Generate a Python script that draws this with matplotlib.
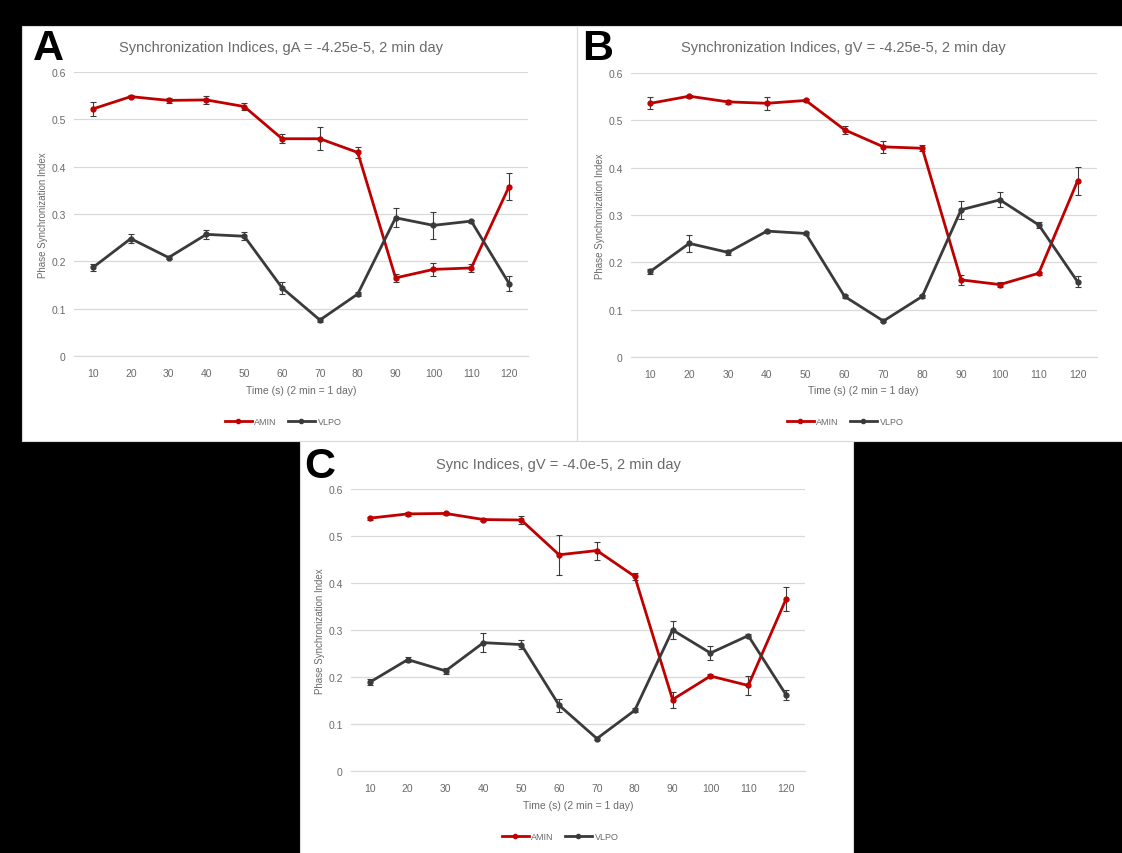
import matplotlib
matplotlib.use("Agg")
import matplotlib.pyplot as plt
from matplotlib.patches import Rectangle
from matplotlib.lines import Line2D

plt.rcParams['font.family'] = ['Liberation Sans', 'DejaVu Sans']

# data
times = ['10', '20', '30', '40', '50', '60', '70', '80', '90', '100', '110', '120']

amin_a = [0.522, 0.548, 0.540, 0.541, 0.527, 0.459, 0.459, 0.430, 0.165, 0.183, 0.186, 0.358]
amin_a_err = [0.014, 0.003, 0.005, 0.009, 0.008, 0.009, 0.024, 0.011, 0.009, 0.013, 0.008, 0.028]
vlpo_a = [0.187, 0.248, 0.208, 0.257, 0.253, 0.144, 0.076, 0.131, 0.292, 0.276, 0.285, 0.153]
vlpo_a_err = [0.008, 0.010, 0.003, 0.010, 0.008, 0.012, 0.004, 0.005, 0.020, 0.028, 0.003, 0.015]

amin_b = [0.536, 0.551, 0.539, 0.536, 0.542, 0.480, 0.444, 0.441, 0.163, 0.153, 0.177, 0.372]
amin_b_err = [0.013, 0.003, 0.005, 0.014, 0.003, 0.008, 0.012, 0.006, 0.010, 0.006, 0.003, 0.030]
vlpo_b = [0.181, 0.240, 0.221, 0.266, 0.261, 0.128, 0.076, 0.128, 0.311, 0.332, 0.279, 0.159]
vlpo_b_err = [0.005, 0.018, 0.005, 0.003, 0.004, 0.004, 0.003, 0.004, 0.019, 0.016, 0.006, 0.012]

amin_c = [0.538, 0.547, 0.548, 0.535, 0.534, 0.460, 0.469, 0.414, 0.152, 0.202, 0.182, 0.366]
amin_c_err = [0.003, 0.004, 0.003, 0.004, 0.008, 0.042, 0.019, 0.008, 0.017, 0.004, 0.020, 0.025]
vlpo_c = [0.189, 0.237, 0.213, 0.273, 0.269, 0.140, 0.069, 0.129, 0.300, 0.251, 0.288, 0.162]
vlpo_c_err = [0.006, 0.005, 0.007, 0.020, 0.010, 0.014, 0.003, 0.004, 0.019, 0.014, 0.003, 0.010]

titles = ['Synchronization Indices, gA = -4.25e-5, 2 min day',
          'Synchronization Indices, gV = -4.25e-5, 2 min day',
          'Sync Indices, gV = -4.0e-5, 2 min day']
letters = ['A', 'B', 'C']
series_names = ['AMIN', 'VLPO']

W, H = 1122, 854
RED = '#C00000'
DARK = '#3A3A3A'
GRAY = '#6A6A6A'

fig = plt.figure(figsize=(W / 100, H / 100), dpi=100, facecolor='black')


def fx(x):
    return x / W


def fy(y):
    return 1 - y / H


def panel(box, plot, title, title_pos, letter, letter_pos, xlab_pos, leg_pos, amin, amin_err, vlpo, vlpo_err):
    x0, y0, x1, y1 = box
    fig.patches.append(Rectangle((fx(x0), fy(y1)), fx(x1 - x0), (y1 - y0) / H,
                                 transform=fig.transFigure, facecolor='white',
                                 edgecolor='#D9D9D9', lw=0.8, zorder=-5))
    px0, py0, px1, py1 = plot
    ax = fig.add_axes([fx(px0), fy(py1), fx(px1 - px0), (py1 - py0) / H])
    ax.set_facecolor('none')
    xs = range(len(times))
    ax.errorbar(xs, amin, yerr=amin_err, color=RED, lw=2, marker='o', ms=3.5,
                ecolor=DARK, elinewidth=0.8, capsize=2.5, capthick=0.8, zorder=3, clip_on=False)
    ax.errorbar(xs, vlpo, yerr=vlpo_err, color=DARK, lw=2, marker='o', ms=3.5,
                ecolor=DARK, elinewidth=0.8, capsize=2.5, capthick=0.8, zorder=3, clip_on=False)
    ax.set_xlim(-0.5, len(times) - 0.5)
    ax.set_ylim(0, 0.6)
    ax.set_yticks([0, 0.1, 0.2, 0.3, 0.4, 0.5, 0.6])
    ax.set_yticklabels(['0', '0.1', '0.2', '0.3', '0.4', '0.5', '0.6'])
    ax.set_xticks(list(xs))
    ax.set_xticklabels(times)
    ax.tick_params(length=0, labelsize=7.5, colors=GRAY, pad=9)
    ax.tick_params(axis='y', pad=6)
    ax.grid(axis='y', color='#D9D9D9', lw=0.9)
    ax.set_axisbelow(True)
    for s in ['top', 'right', 'left']:
        ax.spines[s].set_visible(False)
    ax.spines['bottom'].set_color('#D9D9D9')
    ax.set_ylabel('Phase Synchronization Index', fontsize=7, color=GRAY, labelpad=2)
    fig.text(fx(xlab_pos[0]), fy(xlab_pos[1]), 'Time (s) (2 min = 1 day)', fontsize=7.5,
             color=GRAY, ha='center', va='center')
    fig.text(fx(title_pos[0]), fy(title_pos[1]), title, fontsize=10.5, color=GRAY,
             ha='center', va='center')
    fig.text(fx(letter_pos[0]), fy(letter_pos[1]), letter, fontsize=31, fontweight='bold',
             color='black', ha='left', va='center')
    handles = [Line2D([], [], color=RED, lw=2, marker='o', ms=3),
               Line2D([], [], color=DARK, lw=2, marker='o', ms=3)]
    fig.legend(handles, series_names, loc='center', bbox_to_anchor=(fx(leg_pos[0]), fy(leg_pos[1])),
               ncol=2, frameon=False, fontsize=6.5, handlelength=3, handletextpad=0.3,
               columnspacing=1.2, labelcolor=GRAY)


panel((22, 27, 578, 442), (74, 73, 528, 357), titles[0], (281, 48), letters[0], (33, 49),
      (301, 391), (283, 423), amin_a, amin_a_err, vlpo_a, vlpo_a_err)
panel((577, 27, 1123, 442), (631, 74, 1097, 358), titles[1], (843, 48), letters[1], (582, 49),
      (863, 391), (845, 423), amin_b, amin_b_err, vlpo_b, vlpo_b_err)
panel((300, 442, 853, 855), (351, 490, 805, 772), titles[2], (558, 465), letters[2], (304, 467),
      (578, 806), (560, 838), amin_c, amin_c_err, vlpo_c, vlpo_c_err)

fig.savefig('out.png', dpi=100, facecolor='black')
